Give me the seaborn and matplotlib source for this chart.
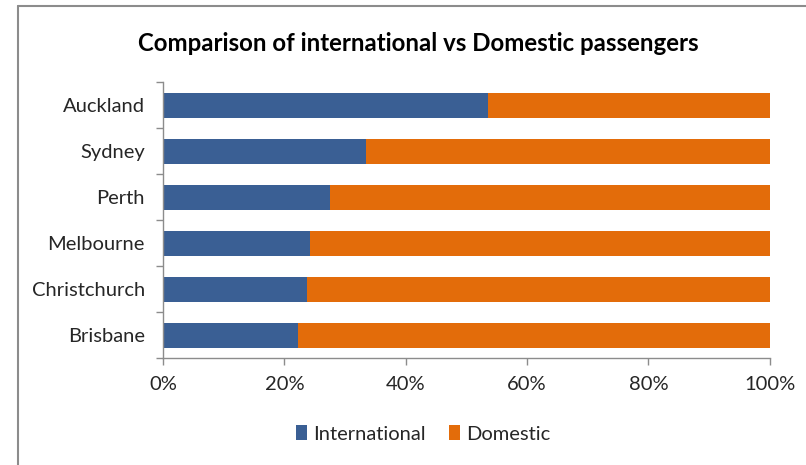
import matplotlib
matplotlib.use("Agg")
import matplotlib.pyplot as plt
import seaborn as sns
import pandas as pd
from matplotlib.lines import Line2D
from matplotlib.patches import Patch
from matplotlib.ticker import FixedLocator, PercentFormatter

cities = ["Auckland", "Sydney", "Perth", "Melbourne", "Christchurch", "Brisbane"]
international = [53.6, 33.4, 27.6, 24.2, 23.7, 22.2]
domestic = [100 - v for v in international]

df = pd.DataFrame({"city": cities, "International": international, "Domestic": domestic})
df["Total"] = df["International"] + df["Domestic"]

blue = "#3A5F94"
orange = "#E36C0A"
gray = "#8C8C8C"

sns.set_theme(style="white")
plt.rcParams["font.family"] = ["Lato", "DejaVu Sans"]

fig = plt.figure(figsize=(8.06, 4.65), dpi=100)
W, H = 806, 465
ax = fig.add_axes([163 / W, 1 - 358.3 / H, (769.7 - 163) / W, (358.3 - 82.3) / H])

sns.barplot(data=df, y="city", x="Total", color=orange, orient="h", width=0.54,
            ax=ax, saturation=1, linewidth=0)
sns.barplot(data=df, y="city", x="International", color=blue, orient="h", width=0.54,
            ax=ax, saturation=1, linewidth=0)

ax.set_xlim(0, 100)
ax.set_ylim(5.5, -0.5)
ax.set_xlabel("")
ax.set_ylabel("")
ax.xaxis.set_major_locator(FixedLocator([0, 20, 40, 60, 80, 100]))
ax.xaxis.set_major_formatter(PercentFormatter(decimals=0))
ax.yaxis.set_minor_locator(FixedLocator([i - 0.5 for i in range(7)]))

for side in ["top", "right"]:
    ax.spines[side].set_visible(False)
for side in ["left", "bottom"]:
    ax.spines[side].set_color(gray)
    ax.spines[side].set_linewidth(1.0)

ax.tick_params(axis="x", which="major", direction="out", length=5, width=1, color=gray,
               labelsize=14.5, labelcolor="#262626", pad=8, bottom=True)
ax.tick_params(axis="y", which="major", length=0, labelsize=14.5, labelcolor="#262626", pad=13)
ax.tick_params(axis="y", which="minor", direction="out", length=5, width=1, color=gray, left=True)

fig.text(0.519, 1 - 43 / H, "Comparison of international vs Domestic passengers",
         ha="center", va="center", fontsize=17.3, fontweight="bold", color="black")

handles = [Patch(facecolor=blue, edgecolor="none"), Patch(facecolor=orange, edgecolor="none")]
fig.legend(handles, ["International", "Domestic"], loc="center", bbox_to_anchor=(0.525, 1 - 434 / H),
           ncol=2, frameon=False, fontsize=14.5, handlelength=0.55, handleheight=0.7,
           handletextpad=0.3, columnspacing=1.2, labelcolor="#262626")

fig.add_artist(Line2D([18 / W, 1], [1 - 6 / H, 1 - 6 / H], color=gray, linewidth=1.5,
                      transform=fig.transFigure))
fig.add_artist(Line2D([18 / W, 18 / W], [0, 1 - 6 / H], color=gray, linewidth=1.5,
                      transform=fig.transFigure))

fig.savefig("out.png", dpi=100)
